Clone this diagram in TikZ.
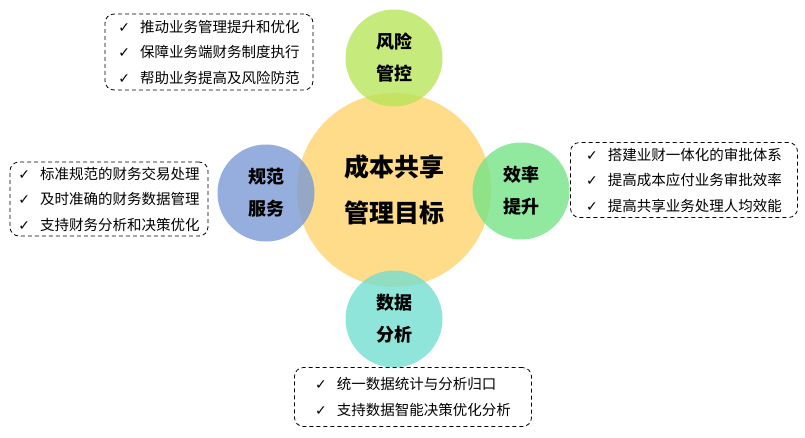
\documentclass[tikz,border=0pt]{standalone}
\usepackage{fontspec}
\setmainfont{Noto Sans CJK SC}
\newfontfamily\tickfont{DejaVu Sans}
\usepackage{tikz}
\usetikzlibrary{positioning}

\definecolor{goalyellow}{HTML}{FFD36B}
\definecolor{riskgreen}{HTML}{B8E55A}
\definecolor{normblue}{HTML}{7A9AD6}
\definecolor{effgreen}{HTML}{74E486}
\definecolor{datateal}{HTML}{74DED2}

\tikzset{
  goal/.style={circle, fill=goalyellow, fill opacity=0.8, text opacity=1,
    minimum size=194pt, inner sep=0pt, align=center,
    font=\fontsize{25}{46}\selectfont\bfseries},
  aim/.style={circle, fill opacity=0.8, text opacity=1,
    minimum size=97pt, inner sep=0pt, align=center,
    font=\fontsize{18}{32}\selectfont\bfseries},
  listbox/.style={draw, dashed, dash pattern=on 4pt off 3pt, line width=0.8pt,
    rounded corners=9pt, inner sep=0pt, align=left,
    font=\fontsize{14.5}{25.5}\selectfont}
}
\newcommand{\tk}{{\tickfont\fontsize{14}{14}\selectfont ✓}\hspace{10pt}}

\begin{document}
\begin{tikzpicture}[x=1pt,y=-1pt]
\useasboundingbox (0,0) rectangle (805,437);
% centre
\node[goal] (goal) at (394,190) {成本共享\\管理目标};
% four aims
\node[aim, fill=riskgreen] (risk) at (394,58) {风险\\管控};
\node[aim, fill=normblue] (norm) at (266,193) {规范\\服务};
\node[aim, fill=effgreen] (eff) at (521,191) {效率\\提升};
\node[aim, fill=datateal] (data) at (394,319) {数据\\分析};
% lists
\node[listbox, minimum width=208pt, minimum height=76pt] (risklist) at (209,52)
  {\tk 推动业务管理提升和优化\\ \tk 保障业务端财务制度执行\\ \tk 帮助业务提高及风险防范};
\node[listbox, minimum width=198pt, minimum height=74pt] (normlist) at (109,199)
  {\tk 标准规范的财务交易处理\\ \tk 及时准确的财务数据管理\\ \tk 支持财务分析和决策优化};
\node[listbox, minimum width=227pt, minimum height=75pt] (efflist) at (684,180)
  {\tk 搭建业财一体化的审批体系\\ \tk 提高成本应付业务审批效率\\ \tk 提高共享业务处理人均效能};
\node[listbox, minimum width=237pt, minimum height=59pt] (datalist) at (413,397)
  {\tk 统一数据统计与分析归口\\ \tk 支持数据智能决策优化分析};
\end{tikzpicture}
\end{document}
